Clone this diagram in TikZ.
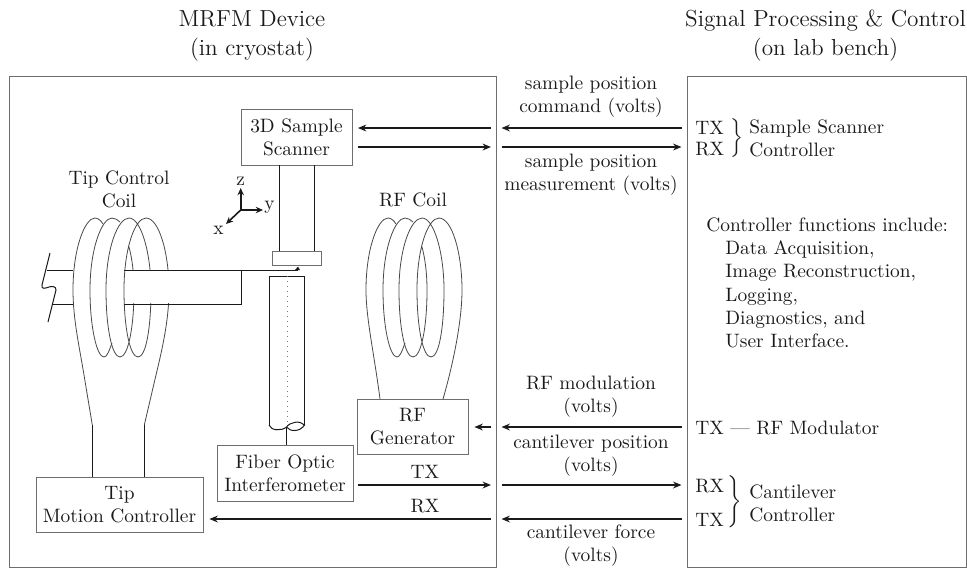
\documentclass[tikz,border=0pt]{standalone}
\usepackage{amsmath,amssymb}
\usepackage{tikz}
\usepackage{xcolor}
\usetikzlibrary{arrows.meta,positioning,calc}
\definecolor{ink}{HTML}{1A1A1A}
\definecolor{framegray}{HTML}{6E6E6E}
\tikzset{
  every node/.style={font=\fontsize{9.7}{11.5}\selectfont,text=ink,align=center},
  blockbox/.style={draw=framegray,line width=0.4pt,inner sep=0pt,fill=white},
  partline/.style={draw=ink,line width=0.5pt},
  coilline/.style={draw=ink!80,line width=0.4pt},
  sigarrow/.style={draw=ink,line width=1pt,-{Stealth[length=4.2pt,width=3.4pt]}},
  axisarrow/.style={draw=ink,line width=0.8pt,-{Stealth[length=3.6pt,width=3.2pt]}},
  titletext/.style={font=\fontsize{11.6}{13}\selectfont},
  sidetext/.style={anchor=west,inner sep=0pt,align=left},
  coilturns/.pic={
    \draw[coilline] (-22,72) .. controls (-22,30) and (-10,0) .. (0,0) .. controls (3,0) and (6,2.5) .. (8,6);
    \draw[coilline] (17,125) .. controls (14,133) and (12,139) .. (9,139) .. controls (2,139) and (-5,110) .. (-5,72)
      .. controls (-5,30) and (7,0) .. (17,0) .. controls (20,0) and (23,2) .. (25,4);
    \draw[coilline] (34,29) .. controls (37,40) and (39,55) .. (39,72) .. controls (39,110) and (33,139) .. (25,139)
      .. controls (17,139) and (11,110) .. (11,72) .. controls (11,30) and (23,0) .. (34,0)
      .. controls (46,0) and (56,35) .. (56,72) .. controls (56,110) and (51,139) .. (43,139)
      .. controls (35,139) and (29,110) .. (29,72) .. controls (29,30) and (40,0) .. (51,0)
      .. controls (64,0) and (74,35) .. (74,72);
  }
}
\begin{document}
\begin{tikzpicture}[x=0.5pt,y=-0.5pt]
  \useasboundingbox (0,0) rectangle (967,570);

  % titles
  \node[titletext] (devicetitle) at (252,35.5) {MRFM Device\\[1.5pt](in cryostat)};
  \node[titletext] (benchtitle) at (825.5,35.5) {Signal Processing \& Control\\[1.5pt](on lab bench)};

  % outer frames
  \node[blockbox,fill=none,minimum width=243.5pt,minimum height=245.5pt] (devicebox) at (252.5,321.5) {};
  \node[blockbox,fill=none,minimum width=139.5pt,minimum height=245.5pt] (benchbox) at (826.5,321.5) {};

  % coils, the cantilever lies over the back of the left one
  \pic at (95,218) {coilturns};
  \pic at (388,218) {coilturns};
  \draw[coilline] (73,290) .. controls (73,320) and (80,350) .. (84,375) -- (92.3,425);
  \draw[coilline] (169,290) .. controls (169,320) and (162,350) .. (156,375) -- (144.3,425);
  \fill[white] (126,271) rectangle (240,303);

  \node[blockbox,minimum width=55.5pt,minimum height=28pt] (scanner) at (296.5,137) {3D Sample\\Scanner};
  \node[blockbox,minimum width=24.5pt,minimum height=7pt] (stage) at (297,258) {};
  \node[blockbox,minimum width=68pt,minimum height=28pt] (interferometer) at (285,473) {Fiber Optic\\Interferometer};
  \node[blockbox,minimum width=55.5pt,minimum height=27.5pt] (rfgen) at (412.5,426.5) {RF\\Generator};
  \node[blockbox,minimum width=83.5pt,minimum height=27.5pt] (tipmotion) at (119.5,504.5) {Tip\\Motion Controller};

  \node (tipcoillabel) at (119,189.5) {Tip Control\\Coil};
  \node (rfcoillabel) at (413,200) {RF Coil};

  % scanner stem
  \draw[partline] ($(scanner.south)+(-17.5,0)$) -- ($(stage.north)+(-18,0)$);
  \draw[partline] ($(scanner.south)+(17.5,0)$) -- ($(stage.north)+(17,0)$);

  % cantilever
  \coordinate (cantop) at (47,270);
  \coordinate (canbot) at (53,304);
  \coordinate (canend) at (241,304);
  \coordinate (tipend) at (298,270);
  \draw[partline] (cantop) -- (73,270) (124,270) -- (tipend);
  \draw[partline] (canbot) -- (73,304) (124,304) -- (canend) -- (241,270);
  \fill[ink] (295,270) -- (298,266.5) -- (300,270) -- cycle;
  \draw[partline] (50,253) -- (42,285) .. controls (41,290) and (46,288) .. (49,287)
    .. controls (52,286) and (56,286) .. (56,290) -- (48,322);

  % fiber
  \draw[partline] (269,425) -- (269,276) -- (304.5,276) -- (304.5,425);
  \draw[partline] (269,425) .. controls (271,431) and (282,431) .. (286.5,427)
    .. controls (290,422) and (300,420) .. (304.5,425) .. controls (300,432) and (290,432) .. (286.5,427);
  \draw[partline,dotted,ink!60] (287,276) -- (287,425);
  \draw[partline] (286.5,427) -- (interferometer.north -| 286.5,0);

  % coil leads
  \draw[partline] (92.3,425) -- (tipmotion.north -| 92.3,0);
  \draw[partline] (144.3,425) -- (tipmotion.north -| 144.3,0);
  \draw[coilline] (366,290) .. controls (366,318) and (374,353) .. (380,399);
  \draw[coilline] (462,290) .. controls (462,323) and (452,368) .. (443,399);

  % axes
  \coordinate (axorigin) at (240.7,210);
  \draw[axisarrow] (axorigin) -- (240.7,188);
  \draw[axisarrow] (axorigin) -- (263,210);
  \draw[axisarrow] (axorigin) -- (226,224);
  \node[inner sep=0pt] (axz) at (240.7,181) {z};
  \node[inner sep=0pt] (axy) at (269.5,207) {y};
  \node[inner sep=0pt] (axx) at (218.6,230) {x};

  % signal labels
  \node (scmdlabel) at (591,97) {sample position\\command (volts)};
  \node (smeaslabel) at (591,175) {sample position\\measurement (volts)};
  \node (rfmodlabel) at (591,397) {RF modulation\\(volts)};
  \node (cposlabel) at (591,455.5) {cantilever position\\(volts)};
  \node (cforcelabel) at (591,546) {cantilever force\\(volts)};
  \node (txlabel) at (425,472) {TX};
  \node (rxlabel) at (425,506) {RX};

  % bench side
  \node[sidetext] (scantx) at (695,127.5) {TX};
  \node[sidetext] (scanrx) at (695,149) {RX};
  \node[inner sep=0pt] (scanbrace) at (737,138) {\scalebox{1}[1.11]{$\Big\}$}};
  \node[sidetext] (scanctl) at (749,138.5) {Sample Scanner\\Controller};
  \node[anchor=north west,inner sep=0pt,align=left,font=\fontsize{9.7}{11.6}\selectfont] (funclist) at (706,217.5)
    {Controller functions include:\\
     \hspace*{9.5pt}Data Acquisition,\\
     \hspace*{9.5pt}Image Reconstruction,\\
     \hspace*{9.5pt}Logging,\\
     \hspace*{9.5pt}Diagnostics, and\\
     \hspace*{9.5pt}User Interface.};
  \node[sidetext] (rfmodtx) at (695,428) {TX --- RF Modulator};
  \node[sidetext] (canrx) at (695,486) {RX};
  \node[sidetext] (cantx) at (695,520) {TX};
  \node[inner sep=0pt] (canbrace) at (735,502) {\scalebox{1}[1.12]{$\bigg\}$}};
  \node[sidetext] (canctl) at (749,503.5) {Cantilever\\Controller};

  % arrow ends at the frame gaps
  \foreach \nm/\ypos in {a/128,b/147,c/427,d/485,e/519}{
    \coordinate (gapl\nm) at (491,\ypos);
    \coordinate (gapr\nm) at (501.5,\ypos);
    \coordinate (side\nm) at (681.5,\ypos);
  }
  \draw[sigarrow] (sidea) -- (gapra);
  \draw[sigarrow] (gapla) -- ($(scanner.east |- gapla)+(5.5,0)$);
  \draw[sigarrow] ($(scanner.east |- gaplb)+(5.5,0)$) -- (gaplb);
  \draw[sigarrow] (gaprb) -- (sideb);
  \draw[sigarrow] (sidec) -- (gaprc);
  \draw[sigarrow] (gaplc) -- ($(rfgen.east |- gaplc)+(6,0)$);
  \draw[sigarrow] ($(interferometer.east |- gapld)+(5,0)$) -- (gapld);
  \draw[sigarrow] (gaprd) -- (sided);
  \draw[sigarrow] (sidee) -- (gapre);
  \draw[sigarrow] (gaple) -- ($(tipmotion.east |- gaple)+(6,0)$);
\end{tikzpicture}
\end{document}
